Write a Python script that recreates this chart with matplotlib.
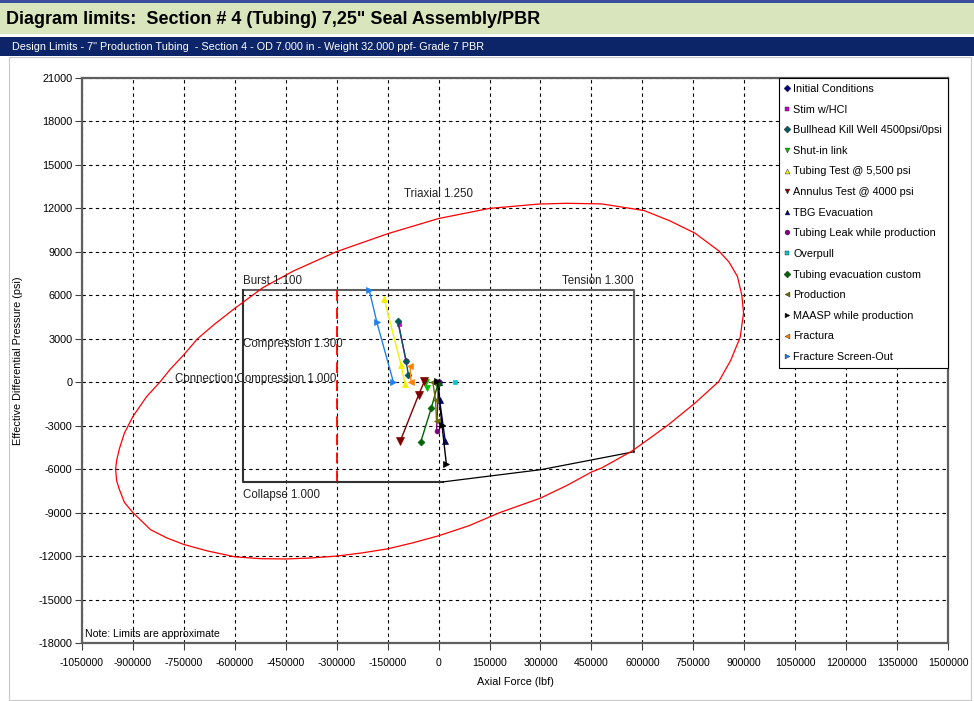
import matplotlib
matplotlib.use("Agg")
import matplotlib.pyplot as plt
from matplotlib.lines import Line2D
from matplotlib.patches import Rectangle
from matplotlib.ticker import FuncFormatter

plt.rcParams["axes.unicode_minus"] = False
FONT = ["Liberation Sans", "DejaVu Sans"]
plt.rcParams["font.family"] = FONT

W, H = 974, 701

# --- axis ticks -------------------------------------------------------------
force_ticks = list(range(-1050000, 1500001, 150000))
press_ticks = list(range(-18000, 21001, 3000))

# --- design limit envelope (lbf, psi) ---------------------------------------
box_force = [-575000, 575000]
burst_psi = 6400
collapse_psi = -6900
tension_low_psi = -4800
conn_comp_force = -300000
collapse_tail_force = [12700, 303000, 575000]
collapse_tail_psi = [-6880, -6030, -4800]

# triaxial 1.250 ellipse, read around the curve
triax_force = [-951000, -948000, -940000, -925000, -900000, -848000, -800000,
               -750000, -680000, -600000, -525000, -450000, -375000, -300000,
               -225000, -150000, -75000, 0, 90000, 180000, 300000, 380000,
               450000, 480000, 568000, 620000, 677000, 755000, 825000, 860000,
               888000, 898000, 893000, 880000, 855000, 825000, 755000, 680000,
               605000, 480000, 375000, 296000, 150000, 0, -150000, -302000,
               -428000, -518000, -600000, -660000, -710000, -750000, -790000,
               -821000, -860000, -900000, -925000, -940000, -948000, -951000]
triax_psi = [-6000, -6800, -7400, -8300, -9000, -10180, -10750,
             -11200, -11650, -12050, -12180, -12200, -12130, -12000,
             -11780, -11500, -11080, -10600, -9900, -9000, -8000, -7100,
             -6200, -5920, -4770, -3900, -2930, -1440, 50, 1500,
             3100, 4770, 6000, 7300, 8300, 9070, 10290, 11150,
             11850, 12310, 12350, 12300, 12000, 11300, 10250, 9000,
             7670, 6520, 5100, 4000, 3000, 1900, 900,
             0, -1000, -2360, -3500, -4600, -5400, -6000]

# --- load cases (axial force lbf, effective differential pressure psi) ------
init_force, init_psi = [0], [0]
stim_force, stim_psi = [-118000, -96000], [4000, 1500]
bullhead_force, bullhead_psi = [-120000, -96000, -89000], [4230, 1500, 500]
shutin_force, shutin_psi = [-38000, -34000], [0, -400]
tbgtest_force, tbgtest_psi = [-160000, -110500, -99000], [5730, 1200, -100]
anntest_force, anntest_psi = [-112500, -59000, -41500], [-4040, -880, 70]
tbgevac_force, tbgevac_psi = [0, 3000, 19700], [0, -1220, -4090]
leak_force, leak_psi = [0, -6000], [0, -3350]
overpull_force, overpull_psi = [49000], [0]
evaccust_force, evaccust_psi = [-53000, -21700, -2000], [-4160, -1800, -115]
prod_force, prod_psi = [-17000, -9000, -6000], [0, -1220, -2660]
maasp_force, maasp_psi = [-4000, 10000, 22700], [115, -2960, -5610]
fractura_force, fractura_psi = [-84000, -81000], [1100, 0]
fso_force, fso_psi = [-204000, -182000, -133000], [6350, 4160, 0]

cases = [
    ("Initial Conditions", init_force, init_psi, "D", "#000080", 3.5),
    ("Stim w/HCI", stim_force, stim_psi, "s", "#cc00cc", 3),
    ("Bullhead Kill Well 4500psi/0psi", bullhead_force, bullhead_psi, "D", "#005a5a", 3.5),
    ("Shut-in link", shutin_force, shutin_psi, "v", "#00c000", 5),
    ("Tubing Test @ 5,500 psi", tbgtest_force, tbgtest_psi, "^", "#f0f000", 5),
    ("Annulus Test @ 4000 psi", anntest_force, anntest_psi, "v", "#800000", 6),
    ("TBG Evacuation", tbgevac_force, tbgevac_psi, "^", "#000070", 5),
    ("Tubing Leak while production", leak_force, leak_psi, "o", "#800080", 3.5),
    ("Overpull", overpull_force, overpull_psi, "s", "#00c8c8", 3.5),
    ("Tubing evacuation custom", evaccust_force, evaccust_psi, "D", "#006400", 3.5),
    ("Production", prod_force, prod_psi, "<", "#6b6b00", 5),
    ("MAASP while production", maasp_force, maasp_psi, ">", "#000000", 5),
    ("Fractura", fractura_force, fractura_psi, "<", "#ff8000", 5),
    ("Fracture Screen-Out", fso_force, fso_psi, ">", "#2080f0", 5),
]


def fy(py):
    return 1 - py / H


fig = plt.figure(figsize=(W / 100, H / 100), dpi=100)

# header bars
fig.add_artist(Rectangle((0, fy(3)), 1, 3 / H, transform=fig.transFigure,
                         facecolor="#3c4c9c", edgecolor="none"))
fig.add_artist(Rectangle((0, fy(34)), 1, 31 / H, transform=fig.transFigure,
                         facecolor="#d9e5bd", edgecolor="none"))
fig.add_artist(Rectangle((0, fy(56)), 1, 19 / H, transform=fig.transFigure,
                         facecolor="#0c2568", edgecolor="none"))
fig.add_artist(Rectangle((9 / W, fy(700)), 962 / W, 643 / H, transform=fig.transFigure,
                         facecolor="none", edgecolor="#c8c8c8", linewidth=0.8))
fig.text(6 / W, fy(19), "Diagram limits:  Section # 4 (Tubing) 7,25\" Seal Assembly/PBR",
         fontsize=13, fontweight="bold", va="center", ha="left")
fig.text(12 / W, fy(46.5),
         "Design Limits - 7\" Production Tubing  - Section 4 - OD 7.000 in - "
         "Weight 32.000 ppf- Grade 7 PBR",
         fontsize=7.8, color="white", va="center", ha="left")

ax = fig.add_axes([82 / W, fy(643), (948 - 82) / W, (643 - 78) / H])
ax.set_xlim(force_ticks[0], force_ticks[-1])
ax.set_ylim(press_ticks[0], press_ticks[-1])
ax.set_xticks(force_ticks)
ax.set_yticks(press_ticks)
ax.xaxis.set_major_formatter(FuncFormatter(lambda v, _: f"{int(v)}"))
ax.yaxis.set_major_formatter(FuncFormatter(lambda v, _: f"{int(v)}"))
ax.grid(True, color="black", linestyle=(0, (3, 3)), linewidth=0.8)
ax.set_axisbelow(True)
for sp in ax.spines.values():
    sp.set_color("#606060")
    sp.set_linewidth(1.6)
ax.tick_params(direction="out", length=5, width=0.8, color="#404040",
               labelsize=7.8, pad=2)
ax.tick_params(axis="x", labelsize=7.6, pad=6)
ax.set_xlabel("Axial Force (lbf)", fontsize=7.8, labelpad=6)
ax.set_ylabel("Effective Differential Pressure (psi)", fontsize=7.8)
ax.yaxis.set_label_coords((23 - 82) / 866, 0.5)

# design limit box
x0, x1 = box_force
ax.plot([x0, x1, x1], [burst_psi, burst_psi, tension_low_psi], color="#606060", lw=1.5)
ax.plot([x0, x0, collapse_tail_force[0]], [burst_psi, collapse_psi, collapse_psi],
        color="#303030", lw=1.5)
ax.plot(collapse_tail_force, collapse_tail_psi, color="black", lw=0.9)
ax.plot([conn_comp_force, conn_comp_force], [burst_psi, collapse_psi],
        color="red", lw=1.3, linestyle=(0, (6, 4)))
ax.plot(triax_force, triax_psi, color="red", lw=0.9)

txt = dict(fontsize=8.3, color="#222222")
ax.text(0, 13000, "Triaxial 1.250", ha="center", va="center", **txt)
ax.text(x0, 7000, "Burst 1.100", ha="left", va="center", **txt)
ax.text(x1, 7000, "Tension 1.300", ha="right", va="center", **txt)
ax.text(x0, 2650, "Compression 1.300", ha="left", va="center", **txt)
ax.text(conn_comp_force, 250, "Connection Compression 1.000", ha="right",
        va="center", **txt)
ax.text(x0, -7750, "Collapse 1.000", ha="left", va="center", **txt)
ax.text(-1040000, -17350, "Note: Limits are approximate", ha="left", va="center",
        fontsize=7.6)

handles = []
for name, xs, ys, mk, col, ms in cases:
    ax.plot(xs, ys, color=col, lw=1.0, marker=mk, markersize=ms,
            markeredgecolor=col, markeredgewidth=0.5, zorder=4)
    handles.append(Line2D([], [], linestyle="none", marker=mk, color=col,
                          markersize=3.5, markeredgewidth=0.3,
                          markeredgecolor="#202020"))

leg = ax.legend(handles, [c[0] for c in cases], loc="upper right",
                bbox_to_anchor=(1, 1), borderaxespad=0, frameon=True,
                fancybox=False, framealpha=1, edgecolor="black",
                prop={"size": 7.8}, handlelength=0.4, handletextpad=0.4,
                labelspacing=0.98, borderpad=0.55)
leg.get_frame().set_linewidth(0.8)
leg.set_zorder(6)

fig.savefig("out.png", dpi=100)
